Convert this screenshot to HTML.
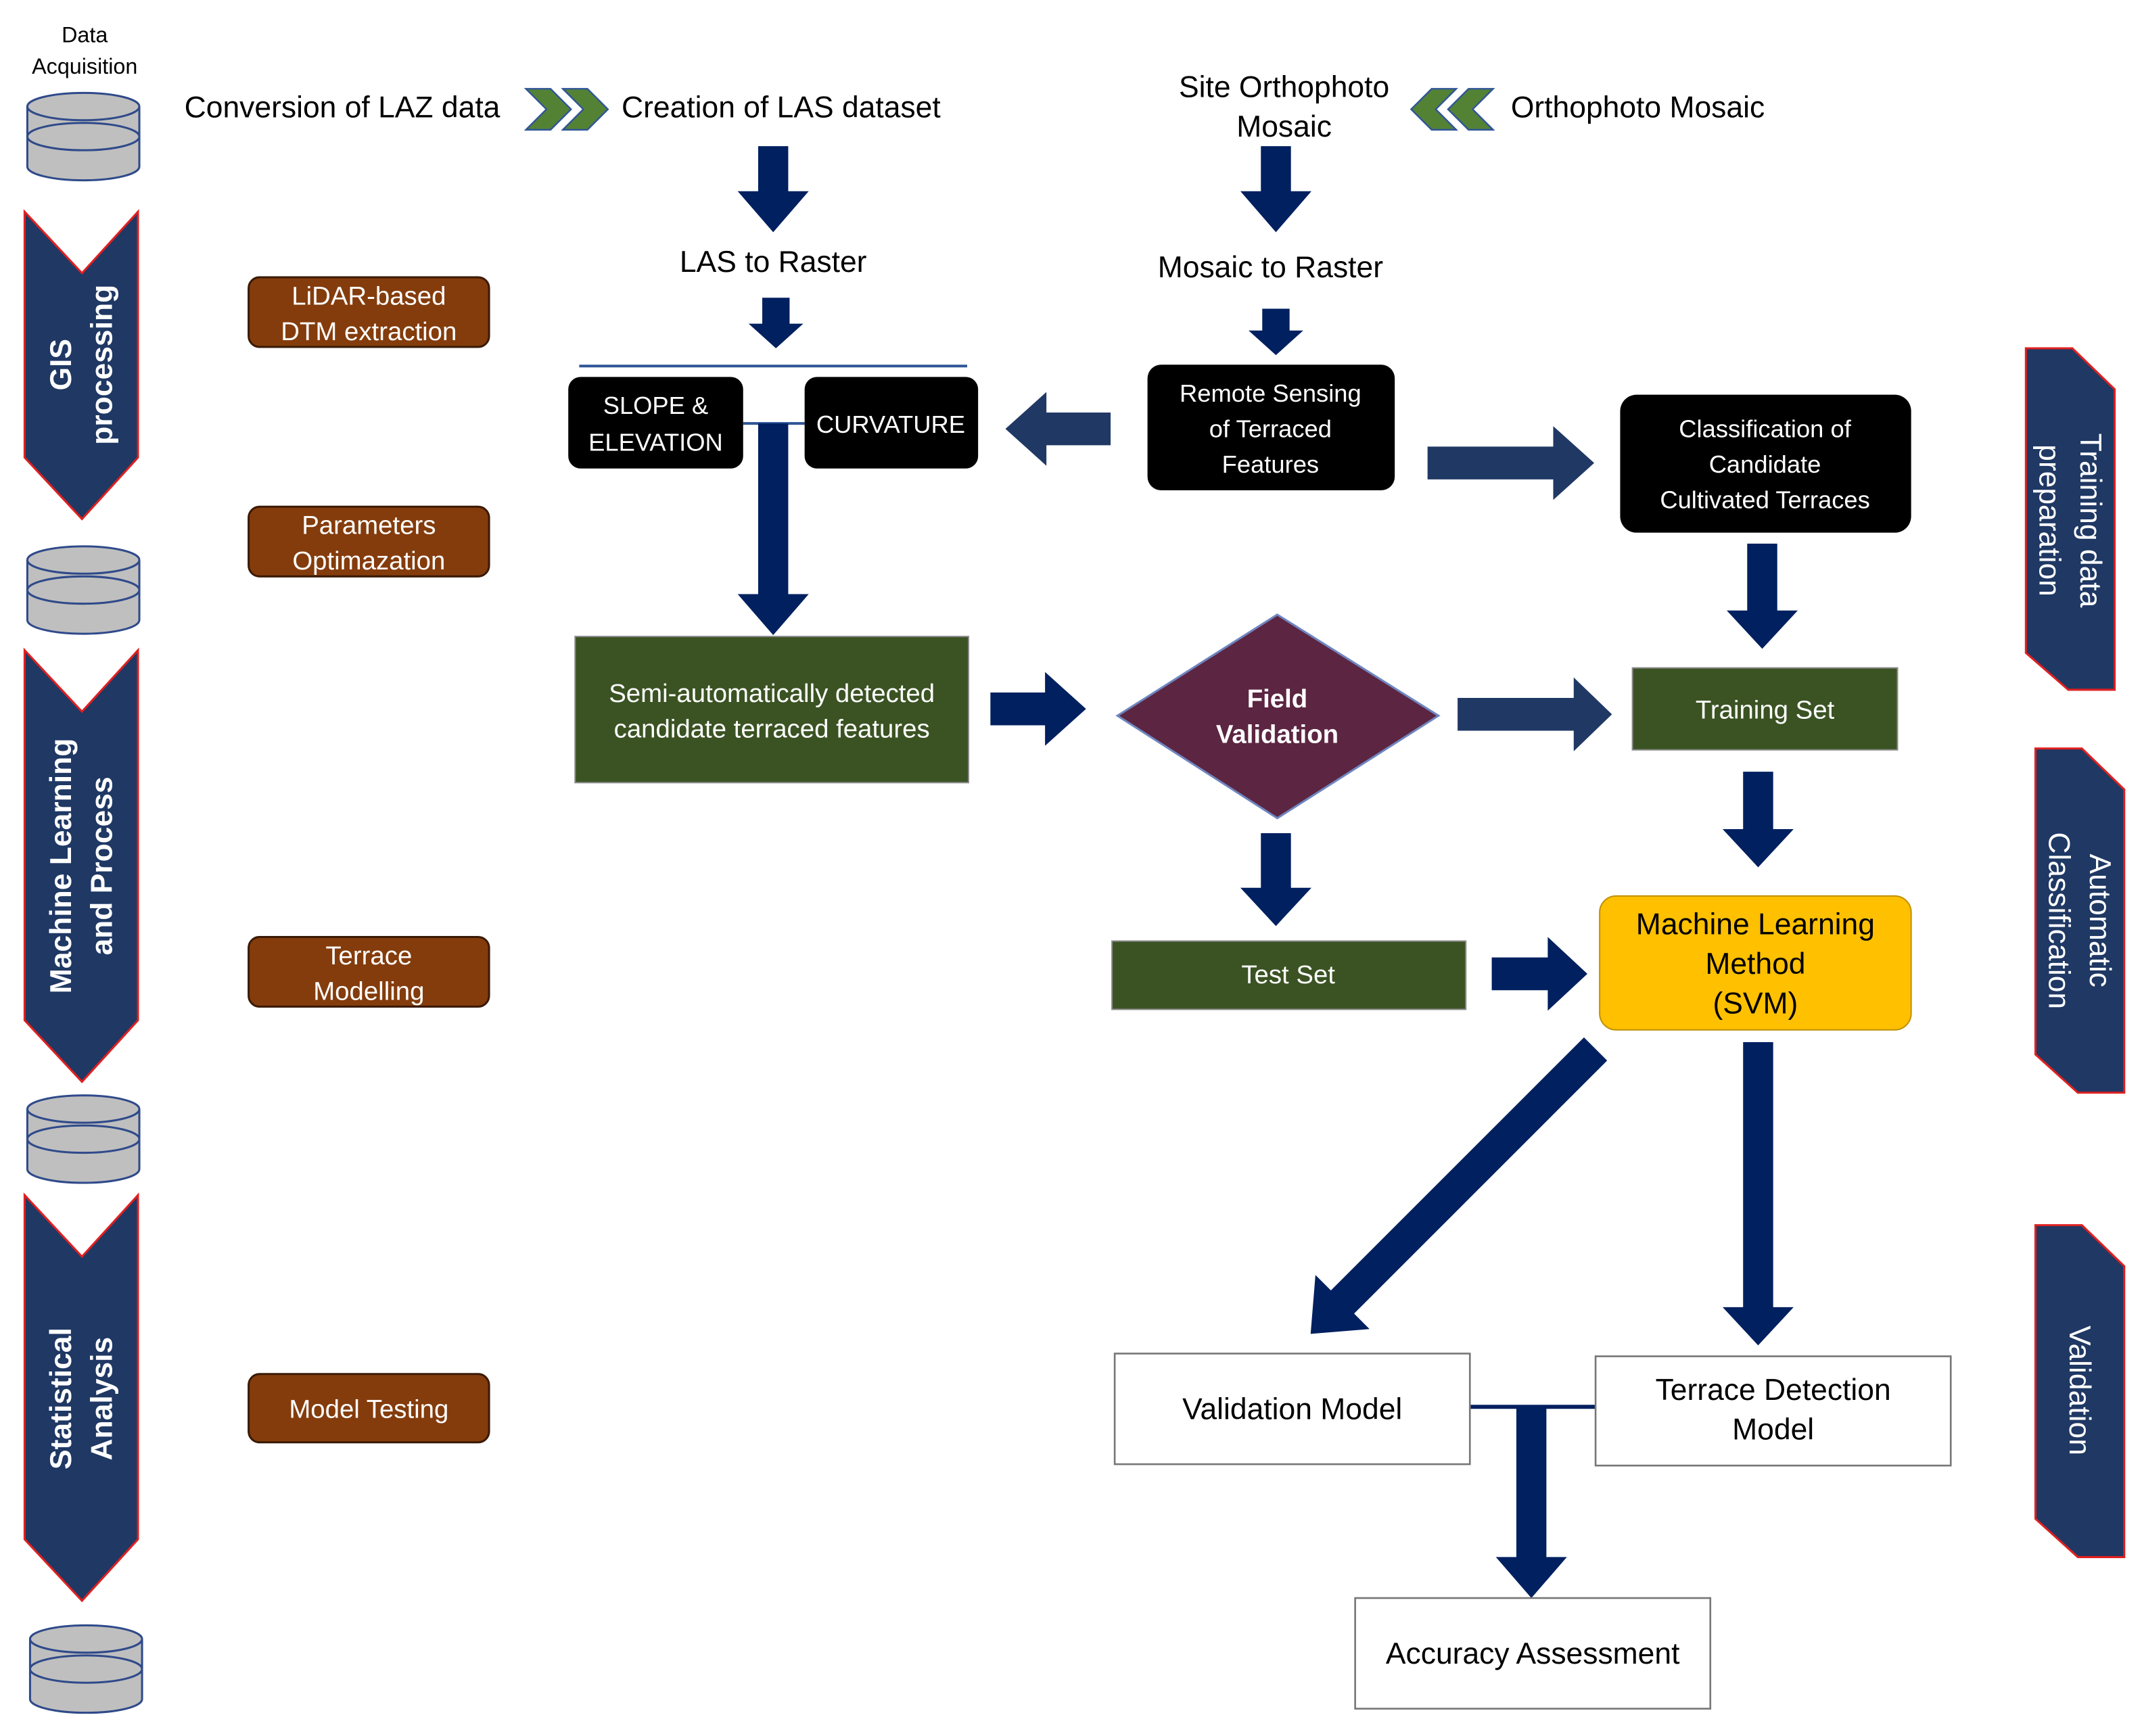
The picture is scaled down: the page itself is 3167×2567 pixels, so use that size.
<!DOCTYPE html>
<html><head><meta charset="utf-8"><style>
html,body{margin:0;padding:0;background:#fff;}
svg{display:block;}
text{font-family:"Liberation Sans",sans-serif;}
</style></head><body>
<svg width="3167" height="2567" viewBox="0 0 1568 1271" preserveAspectRatio="none" xmlns="http://www.w3.org/2000/svg">
<rect width="1568" height="1271" fill="#fff"/>
<defs>
<g id="cyl">
<path d="M0,10 L0,54 A41,10 0 0 0 82,54 L82,10" fill="#bfbfbf" stroke="#2f4a8a" stroke-width="1.5"/>
<ellipse cx="41" cy="10" rx="41" ry="10" fill="#bfbfbf" stroke="#2f4a8a" stroke-width="1.5"/>
<path d="M0,32 A41,10 0 0 1 82,32" fill="none" stroke="#2f4a8a" stroke-width="1.5"/>
<path d="M0,32 A41,10 0 0 0 82,32" fill="none" stroke="#2f4a8a" stroke-width="1.5"/>
</g>
</defs>

<text x="62" y="31" font-size="16" text-anchor="middle">Data</text>
<text x="62" y="54" font-size="16" text-anchor="middle">Acquisition</text>
<use href="#cyl" x="20" y="68"/>
<use href="#cyl" x="20" y="400"/>
<use href="#cyl" x="20" y="802"/>
<use href="#cyl" x="22" y="1190"/>

<!-- left chevron banners -->
<polygon points="18,155 60,200 101,155 101,335 60,380 18,335" fill="#1f3864" stroke="#e02020" stroke-width="1.5"/>
<polygon points="18,476 60,521 101,476 101,747 60,792 18,747" fill="#1f3864" stroke="#e02020" stroke-width="1.5"/>
<polygon points="18,875 60,920 101,875 101,1127 60,1172 18,1127" fill="#1f3864" stroke="#e02020" stroke-width="1.5"/>
<g fill="#fff" font-size="22" font-weight="bold" text-anchor="middle">
<text transform="translate(52,267) rotate(-90)">GIS</text>
<text transform="translate(82,267) rotate(-90)">processing</text>
<text transform="translate(52,634) rotate(-90)">Machine Learning</text>
<text transform="translate(82,634) rotate(-90)">and Process</text>
<text transform="translate(52,1024) rotate(-90)">Statistical</text>
<text transform="translate(82,1024) rotate(-90)">Analysis</text>
</g>

<!-- right banners -->
<polygon points="1483,255 1517,255 1548,285 1548,505 1514,505 1483,478" fill="#1f3864" stroke="#e02020" stroke-width="1.5"/>
<polygon points="1490,548 1524,548 1555,578 1555,800 1521,800 1490,772" fill="#1f3864" stroke="#e02020" stroke-width="1.5"/>
<polygon points="1490,897 1524,897 1555,927 1555,1140 1521,1140 1490,1112" fill="#1f3864" stroke="#e02020" stroke-width="1.5"/>
<g fill="#fff" font-size="22" text-anchor="middle">
<text transform="translate(1523,381) rotate(90)">Training data</text>
<text transform="translate(1493,381) rotate(90)">preparation</text>
<text transform="translate(1530,674) rotate(90)">Automatic</text>
<text transform="translate(1500,674) rotate(90)">Classification</text>
<text transform="translate(1515,1018) rotate(90)">Validation</text>
</g>

<!-- brown boxes -->
<g fill="#843c0c" stroke="#3a1a05" stroke-width="1.5">
<rect x="182" y="203" width="176" height="51" rx="8"/>
<rect x="182" y="371" width="176" height="51" rx="8"/>
<rect x="182" y="686" width="176" height="51" rx="8"/>
<rect x="182" y="1006" width="176" height="50" rx="8"/>
</g>
<g fill="#fff" font-size="19" text-anchor="middle">
<text x="270" y="223">LiDAR-based</text>
<text x="270" y="249">DTM extraction</text>
<text x="270" y="391">Parameters</text>
<text x="270" y="417">Optimazation</text>
<text x="270" y="706">Terrace</text>
<text x="270" y="732">Modelling</text>
<text x="270" y="1038">Model Testing</text>
</g>

<!-- top texts -->
<g font-size="22" fill="#000">
<text x="135" y="86">Conversion of LAZ data</text>
<text x="455" y="86">Creation of LAS dataset</text>
<text x="940" y="71" text-anchor="middle">Site Orthophoto</text>
<text x="940" y="100" text-anchor="middle">Mosaic</text>
<text x="1106" y="86">Orthophoto Mosaic</text>
<text x="566" y="199" text-anchor="middle">LAS to Raster</text>
<text x="930" y="203" text-anchor="middle">Mosaic to Raster</text>
</g>
<g fill="#548235" stroke="#2f5597" stroke-width="1.2">
<polygon points="385,65 403,65 418,80 403,95 385,95 400,80"/>
<polygon points="412,65 430,65 445,80 430,95 412,95 427,80"/>
<polygon points="1093,65 1075,65 1060,80 1075,95 1093,95 1078,80"/>
<polygon points="1066,65 1048,65 1033,80 1048,95 1066,95 1051,80"/>
</g>

<!-- connector lines -->
<line x1="424" y1="268" x2="708" y2="268" stroke="#2f5597" stroke-width="2"/>
<line x1="544" y1="310" x2="589" y2="310" stroke="#2f5597" stroke-width="2"/>
<line x1="1076" y1="1030" x2="1168" y2="1030" stroke="#002060" stroke-width="3"/>

<!-- arrows -->
<g fill="#002060">
<polygon points="555,107 577,107 577,140 592,140 566,170 540,140 555,140"/>
<polygon points="923,107 945,107 945,140 960,140 934,170 908,140 923,140"/>
<polygon points="558,218 578,218 578,237 588,237 568,255 548,237 558,237"/>
<polygon points="924,226 944,226 944,242 954,242 934,260 914,242 924,242"/>
<polygon points="555,310 577,310 577,435 592,435 566,465 540,435 555,435"/>
<polygon points="1279,398 1301,398 1301,447 1316,447 1290,475 1264,447 1279,447"/>
<polygon points="725,507 765,507 765,492 795,519 765,546 765,531 725,531"/>
<polygon points="1276,565 1298,565 1298,607 1313,607 1287,635 1261,607 1276,607"/>
<polygon points="923,610 945,610 945,650 960,650 934,678 908,650 923,650"/>
<polygon points="1092,701 1133,701 1133,686 1162,713 1133,740 1133,725 1092,725"/>
<polygon points="1276,763 1298,763 1298,957 1313,957 1287,985 1261,957 1276,957"/>
<polygon transform="translate(1168,768) rotate(45)" points="-12,0 12,0 12,262 28,262 0,295 -28,262 -12,262"/>
<polygon points="1110,1030 1132,1030 1132,1140 1147,1140 1121,1170 1095,1140 1110,1140"/>
</g>
<g fill="#203864">
<polygon points="813,302 766,302 766,287 736,314 766,341 766,326 813,326"/>
<polygon points="1045,327 1137,327 1137,312 1167,339 1137,366 1137,351 1045,351"/>
<polygon points="1067,511 1152,511 1152,496 1180,523 1152,550 1152,535 1067,535"/>
</g>

<!-- black boxes -->
<g fill="#000">
<rect x="416" y="276" width="128" height="67" rx="9"/>
<rect x="589" y="276" width="127" height="67" rx="9"/>
<rect x="840" y="267" width="181" height="92" rx="10"/>
<rect x="1186" y="289" width="213" height="101" rx="12"/>
</g>
<g fill="#fff" font-size="18" text-anchor="middle">
<text x="480" y="303">SLOPE &amp;</text>
<text x="480" y="330">ELEVATION</text>
<text x="652" y="317">CURVATURE</text>
<text x="930" y="294">Remote Sensing</text>
<text x="930" y="320">of Terraced</text>
<text x="930" y="346">Features</text>
<text x="1292" y="320">Classification  of</text>
<text x="1292" y="346">Candidate</text>
<text x="1292" y="372">Cultivated Terraces</text>
</g>

<!-- green boxes -->
<g fill="#3b5323" stroke="#8a8a8a" stroke-width="1">
<rect x="421" y="466" width="288" height="107"/>
<rect x="1195" y="489" width="194" height="60"/>
<rect x="814" y="689" width="259" height="50"/>
</g>
<polygon points="935,450 1053,524 935,599 818,524" fill="#5c2541" stroke="#6f86c0" stroke-width="1.5"/>
<g fill="#fff" font-size="19" text-anchor="middle">
<text x="565" y="514">Semi-automatically detected</text>
<text x="565" y="540">candidate terraced features</text>
<text x="1292" y="526">Training Set</text>
<text x="943" y="720">Test Set</text>
<text x="935" y="518" font-weight="bold">Field</text>
<text x="935" y="544" font-weight="bold">Validation</text>
</g>

<!-- ML box -->
<rect x="1171" y="656" width="228" height="98" rx="12" fill="#ffc000" stroke="#c09000" stroke-width="1"/>
<g fill="#000" font-size="22" text-anchor="middle">
<text x="1285" y="684">Machine Learning</text>
<text x="1285" y="713">Method</text>
<text x="1285" y="742">(SVM)</text>
</g>

<!-- white boxes -->
<g fill="#fff" stroke="#777" stroke-width="1.3">
<rect x="816" y="991" width="260" height="81"/>
<rect x="1168" y="993" width="260" height="80"/>
<rect x="992" y="1170" width="260" height="81"/>
</g>
<g fill="#000" font-size="22" text-anchor="middle">
<text x="946" y="1039">Validation Model</text>
<text x="1298" y="1025">Terrace Detection</text>
<text x="1298" y="1054">Model</text>
<text x="1122" y="1218">Accuracy Assessment</text>
</g>
</svg>
</body></html>
